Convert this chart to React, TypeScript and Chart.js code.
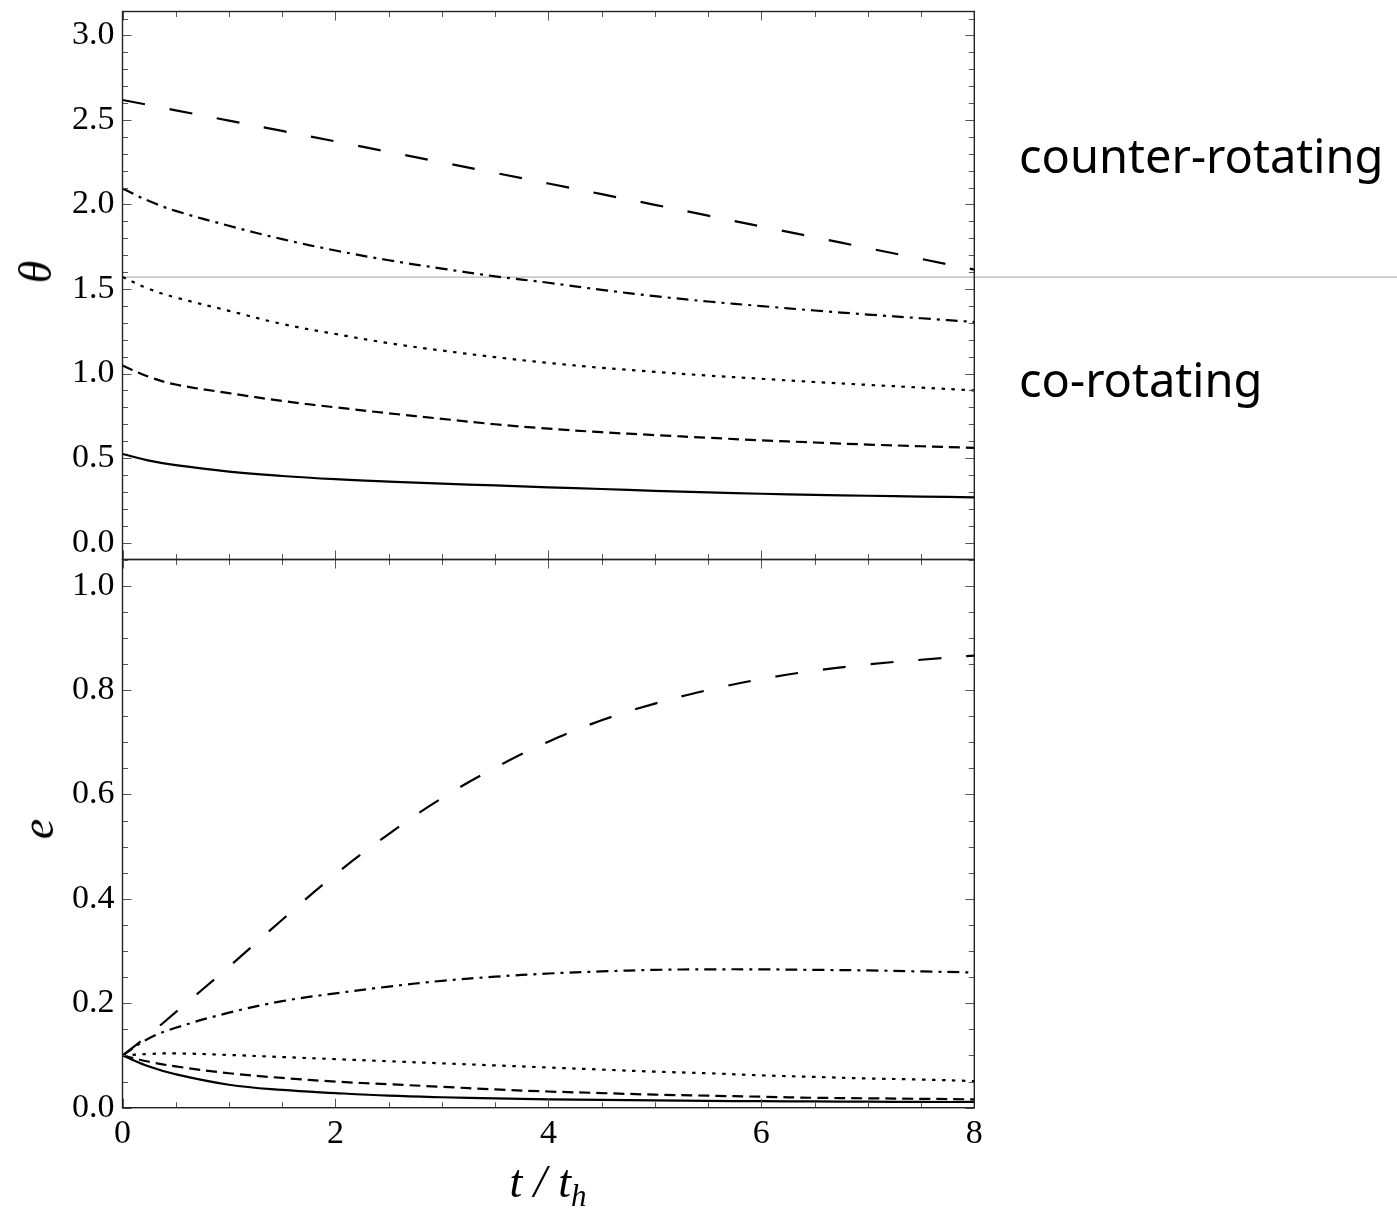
import React, { useEffect, useRef } from 'react';
import { Chart, registerables } from 'chart.js';

Chart.register(...registerables);

// time axis t / t_h
const T = [0, 0.25, 0.5, 1, 1.5, 2, 2.5, 3, 3.5, 4, 4.5, 5, 5.5, 6, 6.5, 7, 7.5, 8];

// theta panel (top)
const thetaLongDash = [2.618, 2.588, 2.557, 2.496, 2.435, 2.373, 2.311, 2.249, 2.187, 2.124, 2.061, 1.998, 1.934, 1.870, 1.806, 1.742, 1.678, 1.615];
const thetaDashDot = [2.094, 2.02, 1.962, 1.874, 1.795, 1.728, 1.67, 1.621, 1.575, 1.537, 1.495, 1.458, 1.426, 1.399, 1.373, 1.349, 1.327, 1.305];
const thetaDotted = [1.571, 1.5, 1.45, 1.371, 1.293, 1.234, 1.18, 1.136, 1.097, 1.063, 1.034, 1.010, 0.988, 0.969, 0.95, 0.933, 0.917, 0.90];
const thetaDashed = [1.047, 0.98, 0.935, 0.884, 0.838, 0.80, 0.765, 0.732, 0.70, 0.674, 0.653, 0.636, 0.62, 0.605, 0.592, 0.58, 0.57, 0.56];
const thetaSolid = [0.524, 0.485, 0.458, 0.42, 0.394, 0.375, 0.361, 0.349, 0.338, 0.327, 0.317, 0.306, 0.297, 0.289, 0.282, 0.277, 0.272, 0.268];

// eccentricity panel (bottom)
const eLongDash = [0.1, 0.14, 0.183, 0.27, 0.36, 0.447, 0.524, 0.593, 0.651, 0.701, 0.742, 0.774, 0.8, 0.821, 0.837, 0.849, 0.858, 0.866];
const eDashDot = [0.1, 0.133, 0.153, 0.182, 0.204, 0.219, 0.232, 0.243, 0.251, 0.257, 0.261, 0.264, 0.265, 0.265, 0.264, 0.263, 0.261, 0.259];
const eDotted = [0.1, 0.103, 0.104, 0.101, 0.097, 0.093, 0.089, 0.085, 0.081, 0.077, 0.073, 0.069, 0.066, 0.062, 0.059, 0.056, 0.054, 0.051];
const eDashed = [0.1, 0.088, 0.079, 0.066, 0.057, 0.05, 0.045, 0.04, 0.035, 0.031, 0.028, 0.025, 0.023, 0.021, 0.019, 0.018, 0.017, 0.016];
const eSolid = [0.1, 0.079, 0.064, 0.044, 0.034, 0.028, 0.023, 0.02, 0.018, 0.016, 0.015, 0.014, 0.013, 0.0125, 0.012, 0.0115, 0.011, 0.011];

// ticks
const xMajorTicks = [0, 2, 4, 6, 8];
const xMinorStep = 0.5;
const thetaMajorTicks = [0, 0.5, 1, 1.5, 2, 2.5, 3];
const thetaMinorStep = 0.1;
const eMajorTicks = [0, 0.2, 0.4, 0.6, 0.8, 1.0];
const eMinorStep = 0.05;

const THETA_MIN = -0.1;
const THETA_MAX = Math.PI;
const E_MIN = 0;
const E_MAX = 1.05;
const DIVIDER = Math.PI / 2;

const W = 1397;
const H = 1209;
const PLOT_LEFT = 122.5;
const PLOT_RIGHT = 974.3;
const TOP_TOP = 11.5;
const MID = 559.5;
const BOT_BOTTOM = 1107.7;

const styles = [
  { dash: [23, 25] },
  { dash: [12, 6, 3, 6] },
  { dash: [3.5, 6.5] },
  { dash: [11, 6] },
  { dash: [] as number[] },
];

const SERIF = "'Liberation Serif', 'Times New Roman', serif";

function stepValues(min: number, max: number, step: number) {
  const out: number[] = [];
  const start = Math.ceil(min / step - 1e-9);
  for (let i = start; i * step <= max + 1e-9; i++) out.push(+(i * step).toFixed(4));
  return out;
}

function makeDatasets(series: number[][]) {
  return series.map((ys, i) => ({
    data: T.map((t, j) => ({ x: t, y: ys[j] })),
    borderColor: '#000',
    borderWidth: 2.2,
    borderDash: styles[i].dash,
    pointRadius: 0,
    fill: false,
    tension: 0.4,
  }));
}

function frameTicksPlugin(yMajor: number[], yMinorStep: number) {
  return {
    id: 'frameTicks',
    afterDatasetsDraw(chart: any) {
      const { ctx, chartArea: a, scales } = chart;
      const xs = scales.x;
      const ys = scales.y;
      ctx.save();
      ctx.strokeStyle = '#555';
      ctx.lineWidth = 1;
      ctx.beginPath();
      const xMinor = stepValues(xs.min, xs.max, xMinorStep);
      xMinor.forEach((v) => {
        const len = xMajorTicks.some((m) => Math.abs(m - v) < 1e-6) ? 9 : 5.5;
        const px = Math.round(xs.getPixelForValue(v)) + 0.5;
        ctx.moveTo(px, a.bottom);
        ctx.lineTo(px, a.bottom - len);
        ctx.moveTo(px, a.top);
        ctx.lineTo(px, a.top + len);
      });
      const yMinor = stepValues(ys.min, ys.max, yMinorStep);
      yMinor.forEach((v) => {
        const len = yMajor.some((m) => Math.abs(m - v) < 1e-6) ? 9 : 5.5;
        const py = Math.round(ys.getPixelForValue(v)) + 0.5;
        ctx.moveTo(a.left, py);
        ctx.lineTo(a.left + len, py);
        ctx.moveTo(a.right, py);
        ctx.lineTo(a.right - len, py);
      });
      ctx.stroke();
      ctx.strokeStyle = '#222';
      ctx.lineWidth = 1.4;
      ctx.strokeRect(a.left, a.top, a.right - a.left, a.bottom - a.top);
      ctx.restore();
    },
  };
}

const dividerPlugin = {
  id: 'divider',
  beforeDatasetsDraw(chart: any) {
    const { ctx, chartArea: a, scales } = chart;
    const py = scales.y.getPixelForValue(DIVIDER);
    ctx.save();
    ctx.strokeStyle = '#b5b5b5';
    ctx.lineWidth = 1.3;
    ctx.beginPath();
    ctx.moveTo(a.left, py);
    ctx.lineTo(chart.width, py);
    ctx.stroke();
    ctx.restore();
  },
};

function zeroPad(s: any) {
  s.paddingTop = 0;
  s.paddingBottom = 0;
  s.paddingLeft = 0;
  s.paddingRight = 0;
}

export default function App() {
  const topRef = useRef<HTMLCanvasElement>(null);
  const botRef = useRef<HTMLCanvasElement>(null);

  useEffect(() => {
    if (!topRef.current || !botRef.current) return;
    const tickFont = { family: SERIF, size: 34 };

    const top = new Chart(topRef.current, {
      type: 'line',
      data: {
        datasets: makeDatasets([thetaLongDash, thetaDashDot, thetaDotted, thetaDashed, thetaSolid]) as any,
      },
      options: {
        responsive: false,
        animation: false,
        events: [],
        layout: { padding: { left: 0, top: TOP_TOP, right: W - PLOT_RIGHT, bottom: H - MID } },
        plugins: { legend: { display: false }, tooltip: { enabled: false } },
        scales: {
          x: {
            type: 'linear',
            min: 0,
            max: 8,
            display: false,
          },
          y: {
            type: 'linear',
            min: THETA_MIN,
            max: THETA_MAX,
            grid: { display: false, drawTicks: false },
            border: { display: false },
            afterBuildTicks: (s: any) => {
              s.ticks = thetaMajorTicks.map((v) => ({ value: v }));
            },
            afterFit: (s: any) => {
              s.width = PLOT_LEFT;
              zeroPad(s);
            },
            ticks: {
              color: '#000',
              font: tickFont,
              padding: 8,
              callback: (v: any) => Number(v).toFixed(1),
            },
          },
        },
      },
      plugins: [dividerPlugin, frameTicksPlugin(thetaMajorTicks, thetaMinorStep)],
    });

    const bot = new Chart(botRef.current, {
      type: 'line',
      data: {
        datasets: makeDatasets([eLongDash, eDashDot, eDotted, eDashed, eSolid]) as any,
      },
      options: {
        responsive: false,
        animation: false,
        events: [],
        layout: { padding: { left: 0, top: MID, right: W - PLOT_RIGHT, bottom: 0 } },
        plugins: { legend: { display: false }, tooltip: { enabled: false } },
        scales: {
          x: {
            type: 'linear',
            min: 0,
            max: 8,
            grid: { display: false, drawTicks: false },
            border: { display: false },
            afterBuildTicks: (s: any) => {
              s.ticks = xMajorTicks.map((v) => ({ value: v }));
            },
            afterFit: (s: any) => {
              s.height = H - BOT_BOTTOM;
              zeroPad(s);
            },
            ticks: {
              color: '#000',
              font: tickFont,
              padding: 6,
              maxRotation: 0,
              callback: (v: any) => String(v),
            },
          },
          y: {
            type: 'linear',
            min: E_MIN,
            max: E_MAX,
            grid: { display: false, drawTicks: false },
            border: { display: false },
            afterBuildTicks: (s: any) => {
              s.ticks = eMajorTicks.map((v) => ({ value: v }));
            },
            afterFit: (s: any) => {
              s.width = PLOT_LEFT;
              zeroPad(s);
            },
            ticks: {
              color: '#000',
              font: tickFont,
              padding: 8,
              callback: (v: any) => Number(v).toFixed(1),
            },
          },
        },
      },
      plugins: [frameTicksPlugin(eMajorTicks, eMinorStep)],
    });

    return () => {
      top.destroy();
      bot.destroy();
    };
  }, []);

  const abs: React.CSSProperties = { position: 'absolute', left: 0, top: 0 };
  const titleStyle: React.CSSProperties = {
    position: 'absolute',
    fontFamily: SERIF,
    fontStyle: 'italic',
    fontSize: 46,
    lineHeight: 1,
    whiteSpace: 'nowrap',
    color: '#000',
  };
  const sideText: React.CSSProperties = {
    position: 'absolute',
    fontFamily: "'Noto Sans', sans-serif",
    fontSize: 47,
    lineHeight: 1,
    whiteSpace: 'nowrap',
    color: '#000',
    left: 1019,
  };

  return (
    <div style={{ position: 'absolute', left: 0, top: 0, width: W, height: H, background: '#fff', overflow: 'hidden' }}>
      <canvas ref={botRef} width={W} height={H} style={abs} />
      <canvas ref={topRef} width={W} height={H} style={abs} />
      <div style={{ ...titleStyle, left: 36, top: 272, transform: 'translate(-50%, -50%) rotate(-90deg)' }}>θ</div>
      <div style={{ ...titleStyle, left: 38, top: 829, transform: 'translate(-50%, -50%) rotate(-90deg)' }}>e</div>
      <div style={{ ...titleStyle, left: 548, top: 1159, transform: 'translateX(-50%)' }}>
        t / t<span style={{ fontSize: 31, position: 'relative', top: 9 }}>h</span>
      </div>
      <div style={{ ...sideText, top: 132 }}>counter-rotating</div>
      <div style={{ ...sideText, top: 356 }}>co-rotating</div>
    </div>
  );
}
